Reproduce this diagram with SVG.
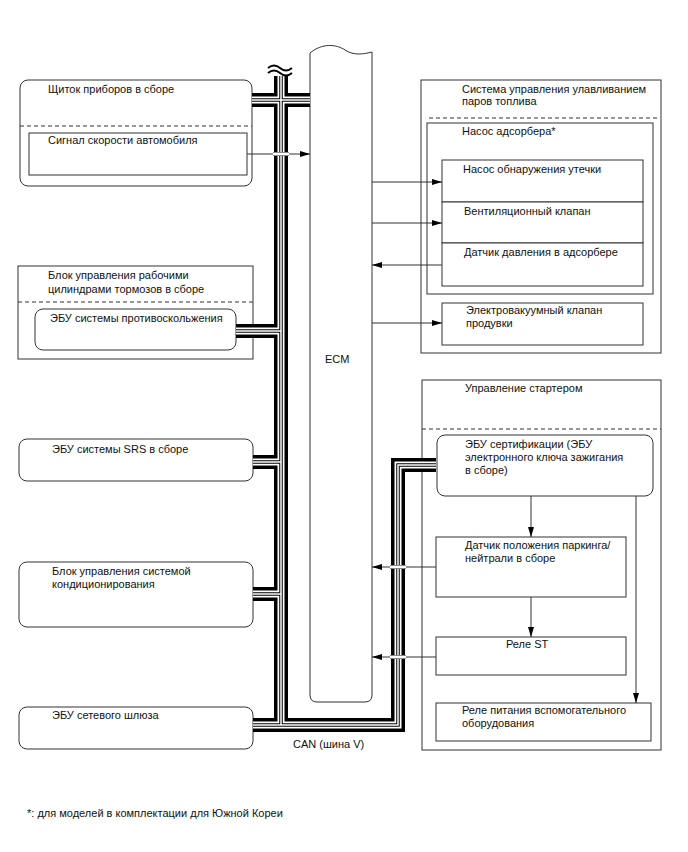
<svg xmlns="http://www.w3.org/2000/svg" xmlns:xlink="http://www.w3.org/1999/xlink" width="688" height="852" viewBox="0 0 688 852">
<style>
text{font-family:"Liberation Sans",Arial,sans-serif;font-size:11px;fill:#111}
.box{fill:#fff;stroke:#333;stroke-width:1}
.dash{stroke:#333;stroke-width:1;stroke-dasharray:4 3;fill:none}
.ln{stroke:#333;stroke-width:1;fill:none}
.arr{stroke:#333;stroke-width:1;fill:none;marker-end:url(#ah)}
.b1{stroke:#000;stroke-width:14;fill:none}
.b2{stroke:#fff;stroke-width:7;fill:none}
.b3{stroke:#000;stroke-width:3.5;fill:none}
.b4{stroke:#fff;stroke-width:1.5;fill:none}
.xg{stroke:#888;stroke-width:4;fill:none}
.xw{stroke:#fff;stroke-width:2;fill:none}
</style>
<defs>
<marker id="ah" markerUnits="userSpaceOnUse" markerWidth="10" markerHeight="6" refX="10" refY="3" orient="auto">
<path d="M0,0 L10,3 L0,6 z" fill="#000"/>
</marker>
<path id="bus" d="M252,100 H310 M281,76 V725 M236,331 H281 M253,462 H281 M253,594 H281 M253,725 H398 V465 H436"/>
</defs>

<g id="ecm">
<path class="box" d="M310,53 C322,43 336,44 345,50 C354,56 364,54 372,52 V695 Q372,702 365,702 H317 Q310,702 310,695 Z"/>
<text x="325" y="363">ECM</text>
</g>

<g id="combination-meter">
<rect class="box" x="20" y="80" width="232" height="106" rx="8"/>
<text x="48" y="93">Щиток приборов в сборе</text>
<line class="dash" x1="20" y1="126" x2="252" y2="126"/>
<g id="vehicle-speed">
<rect class="box" x="29" y="133" width="218" height="42"/>
<text x="48" y="144">Сигнал скорости автомобиля</text>
</g>
</g>

<g id="brake-actuator">
<rect class="box" x="18" y="266" width="235" height="93"/>
<text x="48" y="279">Блок управления рабочими</text>
<text x="48" y="293">цилиндрами тормозов в сборе</text>
<line class="dash" x1="18" y1="302" x2="253" y2="302"/>
<g id="skid-control-ecu">
<rect class="box" x="35" y="309" width="201" height="41" rx="8"/>
<text x="50" y="322">ЭБУ системы противоскольжения</text>
</g>
</g>

<g id="srs-ecu">
<rect class="box" x="19" y="439" width="234" height="42" rx="8"/>
<text x="52" y="453">ЭБУ системы SRS в сборе</text>
</g>

<g id="ac-amplifier">
<rect class="box" x="19" y="562" width="234" height="65" rx="8"/>
<text x="52" y="575">Блок управления системой</text>
<text x="52" y="588">кондиционирования</text>
</g>

<g id="gateway-ecu">
<rect class="box" x="19" y="707" width="234" height="42" rx="8"/>
<text x="52" y="719">ЭБУ сетевого шлюза</text>
</g>

<text x="293" y="748">CAN (шина V)</text>

<g id="evap-system">
<rect class="box" x="421" y="80" width="240" height="273"/>
<text x="462" y="93">Система управления улавливанием</text>
<text x="462" y="105">паров топлива</text>
<line class="dash" x1="429" y1="118" x2="657" y2="118"/>
<g id="canister-pump">
<rect class="box" x="427" y="123" width="226" height="171"/>
<text x="462" y="135">Насос адсорбера*</text>
<g id="leak-pump"><rect class="box" x="442" y="160" width="201" height="42"/><text x="463" y="173">Насос обнаружения утечки</text></g>
<g id="vent-valve"><rect class="box" x="442" y="202" width="201" height="41"/><text x="464" y="215">Вентиляционный клапан</text></g>
<g id="pressure-sensor"><rect class="box" x="442" y="243" width="201" height="43"/><text x="464" y="256">Датчик давления в адсорбере</text></g>
</g>
<g id="purge-vsv">
<rect class="box" x="442" y="303" width="201" height="42"/>
<text x="466" y="314">Электровакуумный клапан</text>
<text x="466" y="327">продувки</text>
</g>
</g>

<g id="starter-control">
<rect class="box" x="422" y="380" width="239" height="370"/>
<text x="465" y="392">Управление стартером</text>
<line class="dash" x1="422" y1="429" x2="661" y2="429"/>
<g id="certification-ecu">
<rect class="box" x="437" y="435" width="216" height="61" rx="8"/>
<text x="465" y="448">ЭБУ сертификации (ЭБУ</text>
<text x="465" y="461">электронного ключа зажигания</text>
<text x="465" y="474">в сборе)</text>
</g>
<g id="park-neutral-switch">
<rect class="box" x="436" y="537" width="190" height="60"/>
<text x="465" y="549">Датчик положения паркинга/</text>
<text x="465" y="562">нейтрали в сборе</text>
</g>
<g id="st-relay">
<rect class="box" x="436" y="637" width="190" height="38"/>
<text x="506" y="648">Реле ST</text>
</g>
<g id="acc-relay">
<rect class="box" x="436" y="703" width="215" height="38"/>
<text x="462" y="714">Реле питания вспомогательного</text>
<text x="462" y="727">оборудования</text>
</g>
</g>

<g id="connectors">
<g id="can-bus">
<use xlink:href="#bus" class="b1"/>
<use xlink:href="#bus" class="b2"/>
<use xlink:href="#bus" class="b3"/>
<use xlink:href="#bus" class="b4"/>
<path d="M268,68 q6,-5 12,0 t12,0 M268,73 q6,-5 12,0 t12,0" stroke="#000" stroke-width="2" fill="none"/>
</g>
<path class="arr" d="M247,154 H310"/>
<path class="xg" d="M273,154 H289"/><path class="xw" d="M273,154 H289"/>
<path class="arr" d="M372,182 H442"/>
<path class="arr" d="M372,223 H442"/>
<path class="arr" d="M442,265 H372"/>
<path class="arr" d="M372,323 H442"/>
<path class="arr" d="M531,496 V537"/>
<path class="arr" d="M531,597 V637"/>
<path class="arr" d="M636,496 V703"/>
<path class="arr" d="M436,567 H372"/>
<path class="xg" d="M390,567 H406"/><path class="xw" d="M390,567 H406"/>
<path class="arr" d="M436,657 H372"/>
<path class="xg" d="M390,657 H406"/><path class="xw" d="M390,657 H406"/>
</g>

<text x="27" y="817">*: для моделей в комплектации для Южной Кореи</text>
</svg>
